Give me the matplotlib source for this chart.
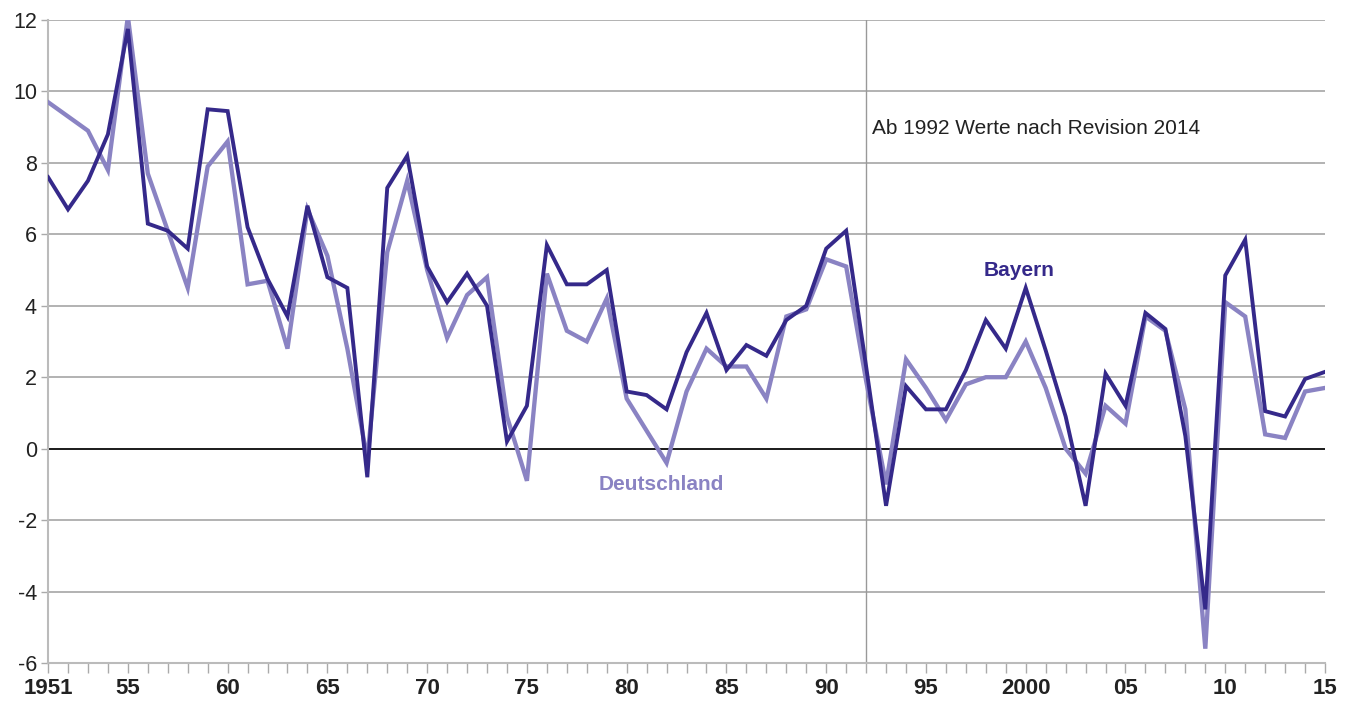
import matplotlib
matplotlib.use("Agg")
import matplotlib.pyplot as plt

years = list(range(1951, 2016))

bayern = [7.6, 6.7, 7.5, 8.8, 11.75, 6.3, 6.1, 5.6, 9.5, 9.45,
          6.2, 4.75, 3.7, 6.8, 4.8, 4.5, -0.8, 7.3, 8.2, 5.1,
          4.1, 4.9, 4.0, 0.2, 1.2, 5.7, 4.6, 4.6, 5.0, 1.6,
          1.5, 1.1, 2.7, 3.8, 2.2, 2.9, 2.6, 3.6, 4.0, 5.6,
          6.1, 2.3, -1.6, 1.75, 1.1, 1.1, 2.2, 3.6, 2.8, 4.5,
          2.75, 0.9, -1.6, 2.1, 1.2, 3.8, 3.35, 0.35, -4.5, 4.85,
          5.85, 1.05, 0.9, 1.95, 2.15]

deutschland = [9.7, 9.3, 8.9, 7.8, 12.1, 7.7, 6.1, 4.5, 7.9, 8.6,
               4.6, 4.7, 2.8, 6.7, 5.4, 2.8, -0.3, 5.5, 7.5, 5.0,
               3.1, 4.3, 4.8, 0.9, -0.9, 4.9, 3.3, 3.0, 4.2, 1.4,
               0.5, -0.4, 1.6, 2.8, 2.3, 2.3, 1.4, 3.7, 3.9, 5.3,
               5.1, 1.9, -1.0, 2.5, 1.7, 0.8, 1.8, 2.0, 2.0, 3.0,
               1.7, 0.0, -0.7, 1.2, 0.7, 3.7, 3.3, 1.1, -5.6, 4.1,
               3.7, 0.4, 0.3, 1.6, 1.7]

xtick_pos = [1951, 1955, 1960, 1965, 1970, 1975, 1980, 1985, 1990, 1995,
             2000, 2005, 2010, 2015]
xtick_lab = ["1951", "55", "60", "65", "70", "75", "80", "85", "90", "95",
             "2000", "05", "10", "15"]
yticks = list(range(-6, 13, 2))

dark = "#35298a"
light = "#8a83c3"
grid = "#a6a6a6"

fig = plt.figure(figsize=(13.5, 7.02), dpi=100)
ax = fig.add_axes([0.0356, 0.0556, 0.9459, 0.9159])

for y in yticks:
    if y != 0:
        ax.axhline(y, color=grid, lw=1.2, zorder=1)
ax.axhline(0, color="#1a1a1a", lw=1.4, zorder=2)
ax.axvline(1992, color="#999999", lw=1.0, zorder=1)

ax.plot(years, deutschland, color=light, lw=3.1, zorder=3,
        solid_joinstyle="miter")
ax.plot(years, bayern, color=dark, lw=2.8, zorder=4,
        solid_joinstyle="miter")

ax.set_xlim(1951, 2015)
ax.set_ylim(-6, 12)

ax.set_yticks(yticks)
ax.set_yticklabels([str(v) for v in yticks], fontsize=15.5, color="#222222",
                   family="Liberation Sans")
ax.set_xticks(years, minor=True)
ax.set_xticks(xtick_pos)
ax.set_xticklabels(xtick_lab, fontsize=16, fontweight="bold", color="#222222",
                   family="Liberation Sans", fontstretch="condensed")
ax.tick_params(axis="x", which="both", direction="out", length=7,
               color="#aaaaaa", width=1, pad=4)
ax.tick_params(axis="y", direction="out", length=5, color="#aaaaaa",
               width=1, pad=3)

for s in ["top", "right"]:
    ax.spines[s].set_visible(False)
for s in ["left", "bottom"]:
    ax.spines[s].set_color("#bbbbbb")
    ax.spines[s].set_linewidth(1.5)

ax.text(1992.3, 8.95, "Ab 1992 Werte nach Revision 2014", fontsize=15,
        color="#222222", family="Liberation Sans", va="center", ha="left")
ax.text(1999.65, 5.0, "Bayern", fontsize=15, fontweight="bold", color=dark,
        family="Liberation Sans", ha="center", va="center")
ax.text(1981.75, -1.0, "Deutschland", fontsize=15, fontweight="bold",
        color=light, family="Liberation Sans", ha="center", va="center")

fig.savefig("out.png", dpi=100)
